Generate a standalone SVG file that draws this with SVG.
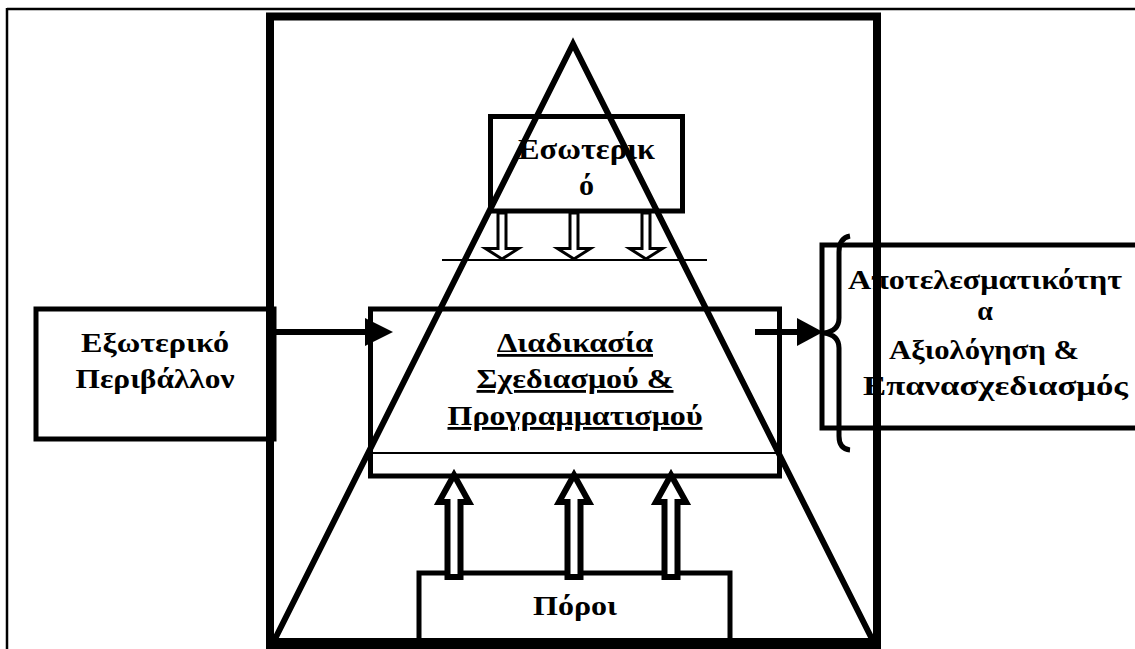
<svg xmlns="http://www.w3.org/2000/svg" width="1135" height="649" viewBox="0 0 1135 649">
<defs>
<style>
.box{fill:#fff;stroke:#000;stroke-width:5}
.t{font-family:"Liberation Serif","DejaVu Serif","Times New Roman",serif;font-weight:bold;font-size:28px;fill:#000;text-anchor:middle}
.big{font-size:30px}
.u{text-decoration:underline}
.hollow{fill:#fff;stroke:#000;stroke-linejoin:miter}
.line{stroke:#000;fill:none}
</style>
</defs>
<rect width="1135" height="649" fill="#fff"/>
<g id="page-border">
<line class="line" x1="7" y1="9" x2="1135" y2="9" stroke-width="2.5"/>
<line class="line" x1="7" y1="8" x2="7" y2="649" stroke-width="2.5"/>
</g>
<g id="node-external">
<rect class="box" x="36" y="309" width="238" height="130" stroke-width="6"/>
<text class="t" x="155" y="352" textLength="148" lengthAdjust="spacingAndGlyphs">Εξωτερικό</text>
<text class="t" x="155" y="388" textLength="159" lengthAdjust="spacingAndGlyphs">Περιβάλλον</text>
</g>
<g id="node-internal">
<rect class="box" x="490.5" y="116.5" width="192" height="94.5"/>
<text class="t big" x="586.5" y="159" textLength="137" lengthAdjust="spacingAndGlyphs">Εσωτερικ</text>
<text class="t big" x="586.5" y="195">ό</text>
</g>
<g id="node-process">
<rect class="box" x="370.5" y="309" width="409" height="167"/>
<line class="line" x1="373" y1="453" x2="777" y2="453" stroke-width="2"/>
<text class="t u" x="575" y="352" textLength="156" lengthAdjust="spacingAndGlyphs">Διαδικασία</text>
<text class="t u" x="575" y="388" textLength="197" lengthAdjust="spacingAndGlyphs">Σχεδιασμού &amp;</text>
<text class="t u" x="575" y="425" textLength="255" lengthAdjust="spacingAndGlyphs">Προγραμματισμού</text>
</g>
<g id="node-resources">
<rect class="box" x="419" y="573" width="311" height="76"/>
<text class="t" x="575" y="615" textLength="84" lengthAdjust="spacingAndGlyphs">Πόροι</text>
</g>
<g id="node-outcome">
<rect class="box" x="822" y="245" width="330" height="183"/>
<text class="t" x="985" y="289" textLength="274" lengthAdjust="spacingAndGlyphs">Αποτελεσματικότητ</text>
<text class="t" x="985" y="320">α</text>
<text class="t" x="984" y="359" textLength="190" lengthAdjust="spacingAndGlyphs">Αξιολόγηση &amp;</text>
<text class="t" x="995.5" y="395" textLength="265" lengthAdjust="spacingAndGlyphs">Επανασχεδιασμός</text>
</g>
<g id="connectors">
<line class="line" x1="442" y1="260" x2="707" y2="260" stroke-width="2"/>
<path class="hollow" stroke-width="3" d="M498,213 V248.5 H485.5 L502,259 L518.5,248.5 H506 V213 Z"/>
<path class="hollow" stroke-width="3" d="M570,213 V248.5 H557.5 L574,259 L590.5,248.5 H578 V213 Z"/>
<path class="hollow" stroke-width="3" d="M642,213 V248.5 H629.5 L646,259 L662.5,248.5 H650 V213 Z"/>
<path class="hollow" stroke-width="6" d="M447.5,577 V502 H439 L454,475 L469,502 H460.5 V577 Z"/>
<path class="hollow" stroke-width="6" d="M567.5,577 V502 H559 L574,475 L589,502 H580.5 V577 Z"/>
<path class="hollow" stroke-width="6" d="M664.5,577 V502 H656 L671,475 L686,502 H677.5 V577 Z"/>
<line class="line" x1="276" y1="332" x2="368" y2="332" stroke-width="6"/>
<polygon points="365,318 393,332 365,346" fill="#000"/>
<line class="line" x1="755" y1="332" x2="800" y2="332" stroke-width="6"/>
<polygon points="797,318 823,332 797,346" fill="#000"/>
<path class="line" stroke-width="5" d="M850,236 Q839,238 839,252 V318 Q839,331 824,333 Q839,335 839,348 V436 Q839,449 850,450"/>
</g>
<g id="frame">
<rect x="270" y="16.5" width="607" height="628.5" fill="none" stroke="#000" stroke-width="8"/>
<polygon points="573,44 274,641 873,641" fill="none" stroke="#000" stroke-width="6" stroke-linejoin="miter"/>
</g>
</svg>
